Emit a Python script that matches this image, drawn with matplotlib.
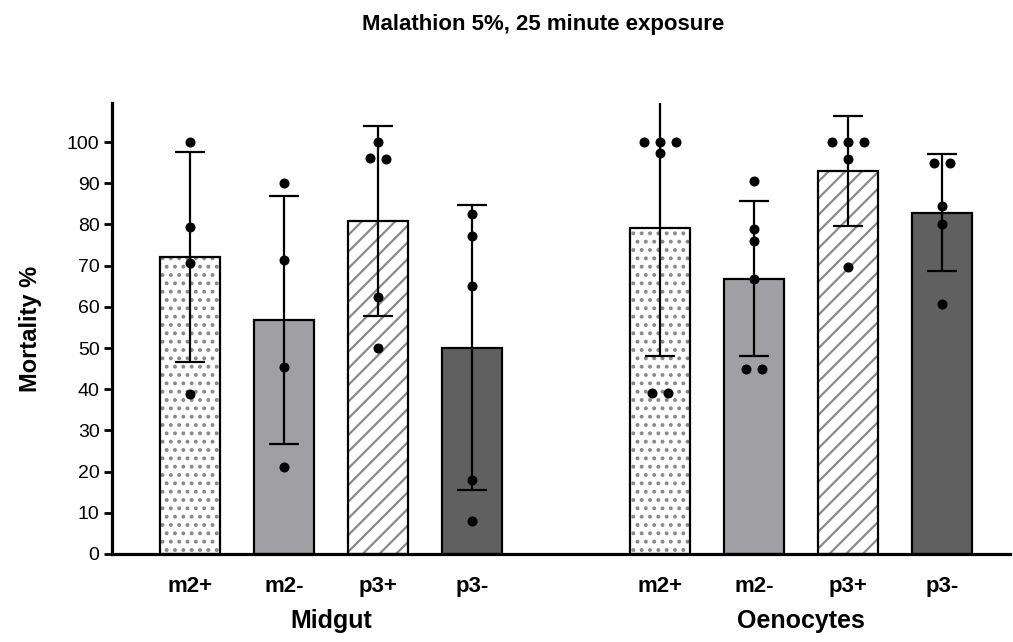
import matplotlib
matplotlib.use("Agg")
import matplotlib.pyplot as plt
import numpy as np

plt.rcParams['font.family'] = ['Liberation Sans', 'DejaVu Sans']
plt.rcParams['hatch.linewidth'] = 1.6

title = "Malathion 5%, 25 minute exposure"
ylabel = "Mortality %"
groups = ["Midgut", "Oenocytes"]
categories = ["m2+", "m2-", "p3+", "p3-"]

# means and SDs (Midgut then Oenocytes)
midgut_means = [72.1, 56.8, 80.8, 50.1]
midgut_sd = [25.5, 30.1, 23.1, 34.6]
oeno_means = [79.2, 66.8, 93.0, 82.9]
oeno_sd = [31.2, 18.8, 13.3, 14.1]

# individual points
midgut_points = [
    [100, 79.3, 70.6, 38.8],
    [90.0, 71.4, 45.4, 21.0],
    [100, 96.2, 95.8, 62.5, 50.1],
    [82.6, 77.2, 65.1, 18.0, 8.1],
]
oeno_points = [
    [100, 100, 100, 97.4, 39.0, 39.0],
    [90.6, 78.9, 76.0, 66.7, 44.8, 44.8],
    [100, 100, 100, 95.8, 69.6],
    [95.0, 95.0, 84.6, 80.1, 60.8],
]

fills = ["white", "#a0a0a4", "white", "#606060"]
hatches = ["..", None, "//", None]
hatch_color = "#8a8a8a"

fig = plt.figure(figsize=(10.13, 6.42), dpi=100)
ax = fig.add_axes([0.1106, 0.1371, 0.886, 0.7025])

pos = np.array([0, 1, 2, 3, 5, 6, 7, 8], dtype=float)
means = midgut_means + oeno_means
sds = midgut_sd + oeno_sd
points = midgut_points + oeno_points
width = 0.64

for i, x in enumerate(pos):
    k = i % 4
    if hatches[k]:
        ax.bar(x, means[i], width, color=fills[k], hatch=hatches[k],
               edgecolor=hatch_color, linewidth=0, zorder=1)
        ax.bar(x, means[i], width, fill=False, edgecolor="black",
               linewidth=1.6, zorder=2)
    else:
        ax.bar(x, means[i], width, color=fills[k], edgecolor="black",
               linewidth=1.6, zorder=2)
    ax.errorbar(x, means[i], yerr=sds[i], fmt="none", ecolor="black",
                elinewidth=1.6, capsize=10.5, capthick=1.6, zorder=3)
    # beeswarm-style spreading of overlapping points
    vals = sorted(points[i], reverse=True)
    clusters = []
    for v in vals:
        if clusters and abs(clusters[-1][-1] - v) < 2.0:
            clusters[-1].append(v)
        else:
            clusters.append([v])
    step = 0.166
    for c in clusters:
        n = len(c)
        offs = (np.arange(n) - (n - 1) / 2) * step
        ax.plot(x + offs, c, "o", color="black", markersize=6.2, zorder=4,
                clip_on=False)

ax.set_xlim(-0.83, 8.72)
ax.set_ylim(0, 109.5)
ax.set_yticks(np.arange(0, 101, 10))
ax.set_xticks(pos)
ax.set_xticklabels(categories * 2, fontsize=16, fontweight="bold")
ax.tick_params(axis="x", length=0, pad=16)
ax.tick_params(axis="y", length=6, width=2, labelsize=14, pad=3)
for s in ["top", "right"]:
    ax.spines[s].set_visible(False)
ax.spines["left"].set_linewidth(2.3)
ax.spines["bottom"].set_linewidth(2.3)
ax.set_ylabel(ylabel, fontsize=17, fontweight="bold", labelpad=18)

for g, cx in zip(groups, [1.5, 6.5]):
    ax.text(cx, -16.2, g, ha="center", va="center", fontsize=18,
            fontweight="bold", transform=ax.transData)

fig.text(0.536, 0.962, title, ha="center", va="center", fontsize=16,
         fontweight="bold")

fig.savefig("out.png", dpi=100)
